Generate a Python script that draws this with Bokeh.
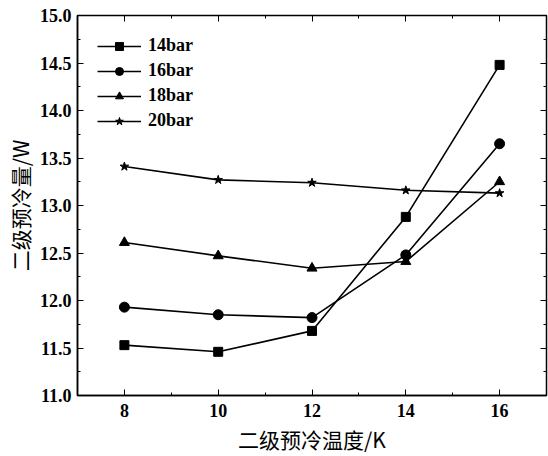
from bokeh.plotting import figure
from bokeh.models import (LinearAxis, Range1d, FixedTicker, Legend, LegendItem,
                          CustomJSTickFormatter)
from bokeh.embed import file_html
from bokeh.resources import INLINE

temps = [8, 10, 12, 14, 16]
q14 = [11.53, 11.46, 11.68, 12.88, 14.48]
q16 = [11.93, 11.85, 11.82, 12.48, 13.65]
q18 = [12.61, 12.47, 12.34, 12.41, 13.25]
q20 = [13.41, 13.27, 13.24, 13.16, 13.13]
labels = ["14bar", "16bar", "18bar", "20bar"]
x_minor = [7, 9, 11, 13, 15, 17]
y_major = [11.0, 11.5, 12.0, 12.5, 13.0, 13.5, 14.0, 14.5, 15.0]
y_minor = [11.25, 11.75, 12.25, 12.75, 13.25, 13.75, 14.25, 14.75]

SERIF = "Liberation Serif"
CJK = "Noto Sans CJK SC"

p = figure(width=548, height=456, output_backend="svg", toolbar_location=None,
           x_range=Range1d(7, 17), y_range=Range1d(11.0, 15.0),
           min_border_left=77, min_border_right=2, min_border_top=15, min_border_bottom=61)
p.xgrid.visible = False
p.ygrid.visible = False
p.outline_line_color = "black"
p.outline_line_width = 1.5
p.background_fill_color = "white"
p.border_fill_color = "white"

items = []
series = [q14, q16, q18, q20]
markers = ["square", "circle", "triangle", "star"]
sizes = [9, 10, 10, 9]
for lab, ys, mk, sz in zip(labels, series, markers, sizes):
    r1 = p.line(temps, ys, line_color="black", line_width=1.6)
    r2 = p.scatter(temps, ys, marker=mk, size=sz, fill_color="black", line_color="black")
    items.append(LegendItem(label=lab, renderers=[r1, r2]))

leg = Legend(items=items, location="top_left", border_line_color=None,
             background_fill_alpha=0, label_text_font=SERIF, label_text_font_style="bold",
             label_text_font_size="18px", label_text_color="black",
             glyph_width=44, glyph_height=20, spacing=4,
             label_standoff=7, padding=0, margin=20)
p.add_layout(leg)

for ax in [p.xaxis[0], p.yaxis[0]]:
    ax.axis_line_width = 1.5
    ax.major_tick_in = 6
    ax.major_tick_out = 0
    ax.minor_tick_in = 3
    ax.minor_tick_out = 0
    ax.major_label_text_font = SERIF
    ax.major_label_text_font_style = "bold"
    ax.major_label_text_font_size = "18px"
    ax.major_label_text_color = "black"
    ax.axis_label_text_font = CJK
    ax.axis_label_text_font_style = "normal"
    ax.axis_label_text_font_size = "21px"
    ax.axis_label_text_color = "black"

p.xaxis[0].ticker = FixedTicker(ticks=temps, minor_ticks=x_minor)
p.yaxis[0].ticker = FixedTicker(ticks=y_major, minor_ticks=y_minor)
p.yaxis[0].formatter = CustomJSTickFormatter(code="return tick.toFixed(1);")
p.xaxis[0].axis_label = "二级预冷温度/K"
p.yaxis[0].axis_label = "二级预冷量/W"
p.xaxis[0].major_label_standoff = 8
p.yaxis[0].major_label_standoff = 6
p.xaxis[0].axis_label_standoff = 4
p.yaxis[0].axis_label_standoff = 2

blank = CustomJSTickFormatter(code="return '';")
top = LinearAxis(ticker=FixedTicker(ticks=temps, minor_ticks=x_minor), formatter=blank,
                 major_tick_in=6, major_tick_out=0, minor_tick_in=3, minor_tick_out=0,
                 axis_line_color=None, major_label_standoff=0)
right = LinearAxis(ticker=FixedTicker(ticks=y_major, minor_ticks=y_minor), formatter=blank,
                   major_tick_in=6, major_tick_out=0, minor_tick_in=3, minor_tick_out=0,
                   axis_line_color=None, major_label_standoff=0)
p.add_layout(top, "above")
p.add_layout(right, "right")

open("out.html", "w").write(file_html(p, INLINE))
